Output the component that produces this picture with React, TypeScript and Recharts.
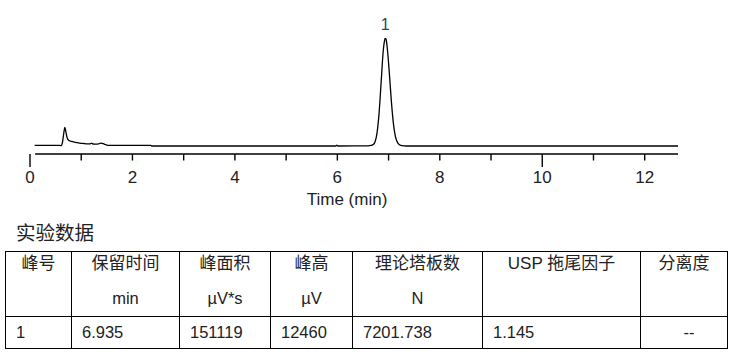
import React from 'react';
import { LineChart, Line, XAxis, YAxis, ReferenceLine, ReferenceDot } from 'recharts';

// Chromatogram trace: time (min) and signal (µV above the late baseline)
const times = [
  0.09, 0.3, 0.58, 0.61, 0.63, 0.655, 0.68, 0.7, 0.72, 0.74,
  0.77, 0.81, 0.87, 0.93, 0.97, 1.05, 1.12, 1.17, 1.2, 1.23,
  1.28, 1.34, 1.38, 1.41, 1.45, 1.5, 1.55, 2.36, 2.38, 5.97,
  5.99, 6.01, 6.6, 6.66, 6.7, 6.735, 6.775, 6.815, 6.855, 6.895,
  6.915, 6.935, 6.955, 6.975, 7.015, 7.055, 7.095, 7.135, 7.185, 7.235,
  7.3, 7.4, 12.65,
];
const signal = [
  75, 75, 75, 40, 300, 1300, 2150, 1650, 1050, 760,
  600, 520, 440, 380, 340, 290, 250, 240, 340, 230,
  210, 250, 330, 300, 220, 100, 75, 75, 0, 0,
  90, 0, 10, 60, 160, 470, 1520, 3820, 7360, 10930,
  11950, 12460, 12200, 11280, 8400, 5120, 2560, 1050, 300, 80,
  20, 0, 0,
];

// Peak annotation
const peakNames = ['1'];
const peakTimes = [6.935];
const peakHeights = [12460];

// X axis
const xTicks = [0, 1, 2, 3, 4, 5, 6, 7, 8, 9, 10, 11, 12];
const labelledTicks = [0, 2, 4, 6, 8, 10, 12];
const longTicks = [0, 10];
const xDomain: [number, number] = [0, 12.65];
const yDomain: [number, number] = [-923, 12460];

// Results table
const tableTitle = '实验数据';
const headTop = ['峰号', '保留时间', '峰面积', '峰高', '理论塔板数', 'USP 拖尾因子', '分离度'];
const headUnit = ['', 'min', 'µV*s', 'µV', 'N', '', ''];
const rowValues = ['1', '6.935', '151119', '12460', '7201.738', '1.145', '--'];
const colWidths = [66, 108, 91, 82, 130, 158, 87];

const chartData = times.map((t, i) => ({ t, v: signal[i] }));

const latin = '"Liberation Sans", Arial, "Noto Sans CJK SC", sans-serif';

const TimeTick = (props: any) => {
  const { x, y, payload } = props;
  const len = longTicks.includes(payload.value) ? 13 : 6.5;
  return (
    <g>
      <line x1={x} y1={y} x2={x} y2={y + len} stroke="#000" strokeWidth={1.4} />
      {labelledTicks.includes(payload.value) && (
        <text x={x} y={y + 29} textAnchor="middle" fontSize={17} fontFamily={latin} fill="#222">
          {payload.value}
        </text>
      )}
    </g>
  );
};

const TimeLabel = (props: any) => {
  const vb = props.viewBox;
  return (
    <text x={vb.x + vb.width / 2 - 7} y={vb.y + vb.height - 10} textAnchor="middle"
      fontSize={17} fontFamily={latin} fill="#222">
      Time (min)
    </text>
  );
};

const cellBorder = '1px solid #000';

const App: React.FC = () => (
  <div style={{ position: 'absolute', left: 0, top: 0, width: 746, height: 357, background: '#fff', overflow: 'hidden' }}>
    <LineChart width={746} height={215} data={chartData} margin={{ top: 38, right: 68, left: 30, bottom: 0 }}>
      <XAxis dataKey="t" type="number" domain={xDomain} allowDataOverflow ticks={xTicks} interval={0}
        axisLine={false} tickLine={false} tickSize={0} tickMargin={0} height={61}
        tick={<TimeTick />} label={<TimeLabel />} />
      <YAxis hide type="number" domain={yDomain} allowDataOverflow />
      <ReferenceLine segment={[{ x: 0.1, y: yDomain[0] }, { x: 12.65, y: yDomain[0] }]}
        stroke="#000" strokeWidth={1.5} />
      <Line dataKey="v" type="monotone" stroke="#000" strokeWidth={1.3} dot={false} isAnimationActive={false} />
      {peakNames.map((name, i) => (
        <ReferenceDot key={name} x={peakTimes[i]} y={peakHeights[i]} r={0} fill="none" stroke="none"
          label={{ value: name, position: 'top', offset: 8, fontSize: 16, fontFamily: latin, fill: '#274a5c' }} />
      ))}
    </LineChart>
    <div style={{ position: 'absolute', left: 16, top: 221, fontSize: 19.5, lineHeight: '21px',
      fontFamily: '"Noto Sans CJK SC", sans-serif', color: '#222' }}>
      {tableTitle}
    </div>
    <table style={{ position: 'absolute', left: 5, top: 251, borderCollapse: 'collapse', tableLayout: 'fixed',
      width: 722, fontFamily: latin, fontSize: 16.5, color: '#222' }}>
      <colgroup>
        {colWidths.map((w, i) => <col key={i} style={{ width: w }} />)}
      </colgroup>
      <tbody>
        <tr>
          {headTop.map((h, i) => (
            <td key={i} style={{ border: cellBorder, height: 64, padding: 0, verticalAlign: 'top', textAlign: 'center' }}>
              <div style={{ lineHeight: '24px', fontSize: 17 }}>{h}</div>
              <div style={{ lineHeight: '24px', marginTop: 10 }}>{headUnit[i]}</div>
            </td>
          ))}
        </tr>
        <tr>
          {rowValues.map((v, i) => (
            <td key={i} style={{ border: cellBorder, height: 31, padding: '0 0 0 10px',
              textAlign: v === '--' ? 'center' : 'left', verticalAlign: 'middle' }}>
              {v}
            </td>
          ))}
        </tr>
      </tbody>
    </table>
  </div>
);

export default App;
